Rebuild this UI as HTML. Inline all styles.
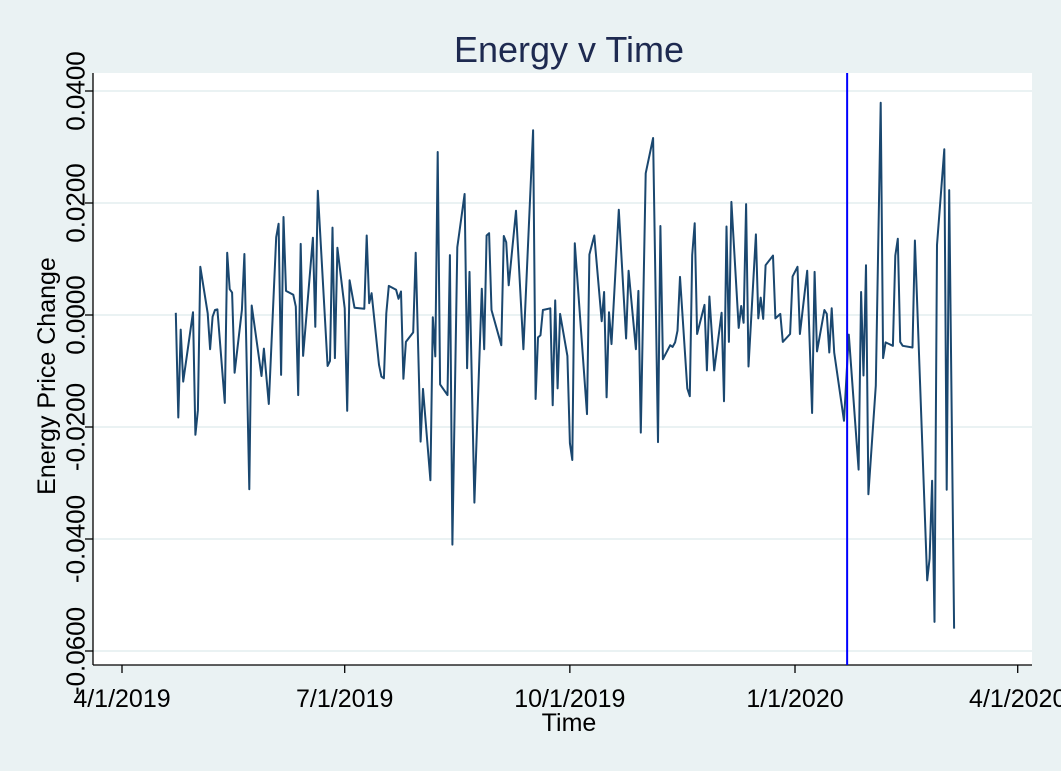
<!DOCTYPE html>
<html><head><meta charset="utf-8"><style>
html,body{margin:0;padding:0;background:#eaf2f3;}
svg{display:block;font-family:"Liberation Sans",Arial,sans-serif;}
</style></head><body>
<svg id="chart" width="1061" height="771" viewBox="0 0 1061 771" xmlns="http://www.w3.org/2000/svg">
<rect x="0" y="0" width="1061" height="771" fill="#eaf2f3"/>
<rect x="93" y="73" width="939" height="592" fill="#ffffff"/>
<text x="569" y="62" text-anchor="middle" font-size="36" fill="#1e2a50">Energy v Time</text>
<g id="grid"></g>
<g id="yaxis"></g>
<g id="xaxis"></g>
<g id="series"></g>
<text x="0" y="0" transform="translate(55,376) rotate(-90)" text-anchor="middle" font-size="25" fill="#000">Energy Price Change</text>
<text x="569" y="731" text-anchor="middle" font-size="25" fill="#000">Time</text>
</svg>
<script>
// days since 2019-04-01
const days = [22,23,24,25,29,30,31,32,35,36,37,38,39,42,43,44,45,46,49,50,52,53,57,58,60,63,64,65,66,67,70,71,72,73,74,78,79,80,84,85,86,87,88,91,92,93,95,99,100,101,102,105,106,107,108,109,112,113,114,115,116,119,120,122,123,126,127,128,129,130,133,134,135,137,140,141,142,144,147,148,149,150,151,155,156,157,158,161,164,168,169,170,171,172,175,176,177,178,179,182,183,184,185,190,191,193,196,197,198,199,200,203,206,207,210,211,212,214,217,219,220,221,224,225,226,227,228,231,232,233,234,235,238,239,240,242,245,246,247,248,249,252,253,254,255,256,259,260,261,262,263,266,267,269,270,273,274,276,277,280,282,283,284,287,288,289,290,291,295,297,301,302,303,304,305,308,310,311,312,315,316,317,318,319,323,324,329,330,331,332,333,336,337,338,340];
const values = [0.0004,-0.0183,-0.0026,-0.0119,0.0005,-0.0214,-0.0170,0.0086,0.0003,-0.0061,-0.0003,0.0009,0.0010,-0.0157,0.0111,0.0046,0.0040,-0.0103,0.0009,0.0109,-0.0311,0.0017,-0.0109,-0.0060,-0.0159,0.0139,0.0163,-0.0107,0.0175,0.0043,0.0036,0.0015,-0.0143,0.0127,-0.0073,0.0138,-0.0021,0.0222,-0.0091,-0.0082,0.0156,-0.0077,0.0120,0.0012,-0.0171,0.0062,0.0013,0.0011,0.0142,0.0021,0.0039,-0.0089,-0.0110,-0.0113,0.0003,0.0052,0.0045,0.0029,0.0042,-0.0114,-0.0048,-0.0031,0.0111,-0.0226,-0.0132,-0.0295,-0.0004,-0.0074,0.0291,-0.0124,-0.0143,0.0107,-0.0410,0.0121,0.0216,-0.0095,0.0077,-0.0335,0.0047,-0.0061,0.0142,0.0146,0.0009,-0.0054,0.0141,0.0130,0.0053,0.0186,-0.0061,0.0330,-0.0150,-0.0040,-0.0036,0.0009,0.0012,-0.0161,0.0026,-0.0131,0.0002,-0.0073,-0.0229,-0.0259,0.0128,-0.0177,0.0108,0.0142,-0.0011,0.0041,-0.0147,0.0005,-0.0052,0.0188,-0.0042,0.0079,-0.0061,0.0043,-0.0210,0.0253,0.0316,-0.0227,0.0159,-0.0079,-0.0054,-0.0057,-0.0049,-0.0028,0.0068,-0.0131,-0.0145,0.0107,0.0164,-0.0034,0.0018,-0.0099,0.0033,-0.0099,0.0004,-0.0154,0.0158,-0.0048,0.0202,-0.0023,0.0016,-0.0014,0.0198,-0.0092,0.0144,-0.0006,0.0031,-0.0007,0.0089,0.0106,-0.0006,0.0002,-0.0048,-0.0034,0.0069,0.0086,-0.0034,0.0079,-0.0175,0.0077,-0.0065,0.0009,0.0002,-0.0067,0.0012,-0.0067,-0.0189,-0.0035,-0.0276,0.0041,-0.0108,0.0089,-0.0320,-0.0126,0.0379,-0.0077,-0.0049,-0.0055,0.0106,0.0136,-0.0048,-0.0055,-0.0058,0.0133,-0.0474,-0.0435,-0.0296,-0.0548,0.0125,0.0296,-0.0312,0.0223,-0.0560];
const yTicks = [0.04,0.02,0,-0.02,-0.04,-0.06];
const yTickLabels = ["0.0400","0.0200","0.0000","-0.0200","-0.0400","-0.0600"];
const xTicks = [0,91,183,275,366];
const xTickLabels = ["4/1/2019","7/1/2019","10/1/2019","1/1/2020","4/1/2020"];
const eventDay = 296.3;

const NS = "http://www.w3.org/2000/svg";
function xs(d){ return 122 + d * 2.4473; }
function ys(v){ return 315 - v * 5600; }
function mk(tag, attrs, parent){
  const e = document.createElementNS(NS, tag);
  for (const k in attrs) e.setAttribute(k, attrs[k]);
  parent.appendChild(e);
  return e;
}
const grid = document.getElementById('grid');
const yaxis = document.getElementById('yaxis');
const xaxis = document.getElementById('xaxis');
const series = document.getElementById('series');

yTicks.forEach((v, i) => {
  const gl = mk('line', {x1:93, x2:1032, y1:ys(v), y2:ys(v), stroke:'#eaf2f3', 'stroke-width':2}, grid);
  
  
  const tk = mk('line', {x1:85, x2:93, y1:ys(v), y2:ys(v), stroke:'#000', 'stroke-width':1.3}, yaxis);
  
  
  const t = mk('text', {transform:'translate(84.5,' + ys(v) + ') rotate(-90)', 'text-anchor':'middle', 'font-size':26, fill:'#000'}, yaxis);
  t.textContent = yTickLabels[i];
  
  
});
const yl = mk('line', {x1:93, x2:93, y1:73, y2:665, stroke:'#000', 'stroke-width':1.3}, yaxis);



const xl = mk('line', {x1:93, x2:1032, y1:665, y2:665, stroke:'#000', 'stroke-width':1.3}, xaxis);


xTicks.forEach((d, i) => {
  const tk = mk('line', {x1:xs(d), x2:xs(d), y1:665, y2:673, stroke:'#000', 'stroke-width':1.3}, xaxis);
  
  
  const t = mk('text', {x:xs(d), y:707, 'text-anchor':'middle', 'font-size':25, fill:'#000'}, xaxis);
  t.textContent = xTickLabels[i];
  
  
});

const pts = days.map((d, i) => xs(d).toFixed(1) + ',' + ys(values[i]).toFixed(1)).join(' ');
const pl = mk('polyline', {points:pts, fill:'none', stroke:'#1a476f', 'stroke-width':2, 'stroke-linejoin':'round'}, series);



const vl = mk('line', {x1:xs(eventDay), x2:xs(eventDay), y1:73, y2:665, stroke:'#0000ff', 'stroke-width':2}, series);


</script>
</body></html>
